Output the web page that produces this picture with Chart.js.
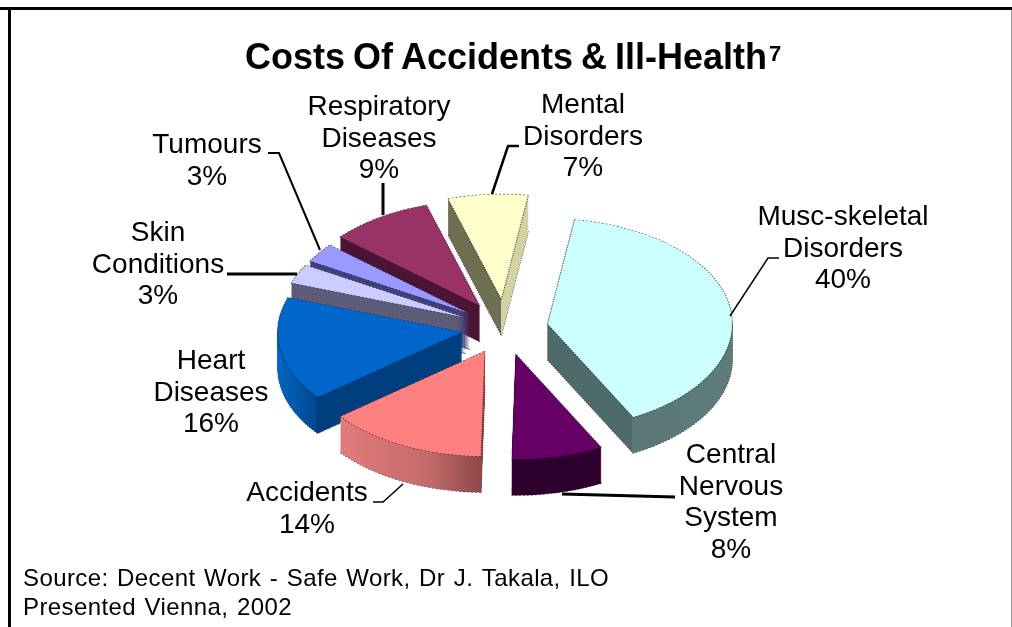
<!DOCTYPE html>
<html><head><meta charset="utf-8">
<style>html,body{margin:0;padding:0;background:#fff}canvas{display:block}#w{width:1012px;height:627px;position:relative}</style>
<script src="https://cdn.jsdelivr.net/npm/chart.js@4"></script>
</head><body><div id="w"><canvas id="c" width="1012" height="627"></canvas></div>
<script>
const categoryLines = [["Musc-skeletal","Disorders"],["Central","Nervous","System"],["Accidents"],["Heart","Diseases"],["Skin","Conditions"],["Tumours"],["Respiratory","Diseases"],["Mental","Disorders"]];
const shares = [40,8,14,16,3,3,9,7];
const titleText = "Costs Of Accidents & Ill-Health";
const titleNote = "7";
const sourceLines = ["Source: Decent Work - Safe Work, Dr J. Takala, ILO","Presented Vienna, 2002"];

const topColors = ["#ccffff","#660066","#ff8080","#0066cc","#ccccff","#9999ff","#993366","#ffffcc"];
const wallStops = [
  [[-1,"#4f6a6a"],[0.46,"#4f6a6a"],[0.46,"#5a7676"],[1,"#5f7c7c"]],
  [[-1,"#2e002e"],[1,"#2e002e"]],
  [[-0.8,"#e27c7c"],[-0.3,"#c46a6a"],[0,"#8a4646"]],
  [[-1,"#0066c4"],[-0.79,"#00498f"],[-0.79,"#003f7f"],[1,"#003f7f"]],
  [[-1,"#5c5c78"],[1,"#5c5c78"]],
  [[-1,"#40407c"],[1,"#40407c"]],
  [[-1,"#4a1535"],[1,"#4a1535"]],
  [[-1,"#6e6e52"],[0,"#6e6e52"],[0,"#d2d2a2"],[1,"#d2d2a2"]]
];
const explode = [43,47,45,43,43,43,46,50];
const paintOrder = [7,6,5,4,3,0,2,1];
const SQUASH = 0.57, DEPTH = 36;
const LINE_GAP = 31.5;
const labelAnchors = [[843,225],[731,463],[307,501],[211,369],[158,241],[207,153],[379,115],[583,113]];
const leaderLines = [
  [[730,316],[768,258],[779,258]],
  [[562,494],[675,497]],
  [[403,484],[383,502],[373,502]],
  [[227,274],[297,274]],
  [[268,153],[279,153],[320,250]],
  [[383,183],[383,215]],
  [[492,194],[508,146],[519,146]]
];
const leaderWidths = [1.5,3,1.5,3,2,3,2.5];

function baseArcOptions(){return {borderAlign:'center',borderJoinStyle:'round',borderDash:[],borderDashOffset:0,offset:0,spacing:0,circular:true,borderRadius:0};}
function paintArc(ctx,arc,i,fill,depth,border){
  const p=arc.getProps(['x','y','startAngle','endAngle','outerRadius']);
  const mid=(p.startAngle+p.endAngle)/2, e=explode[i];
  const saved=arc.options;
  arc.options=Object.assign(baseArcOptions(),{backgroundColor:fill,borderColor:border?'rgba(25,25,25,0.75)':'transparent',borderWidth:border?1.1:0,borderDash:border?[2,2]:[]});
  ctx.save();
  ctx.translate(p.x,p.y+depth);
  ctx.scale(1,SQUASH);
  ctx.translate(Math.cos(mid)*e-p.x,Math.sin(mid)*e-p.y);
  arc.draw(ctx);
  ctx.restore();
  arc.options=saved;
}
const pie3d={
  id:'pie3d',
  beforeDatasetDraw(chart,args){
    const ctx=chart.ctx, arcs=args.meta.data;
    for(const i of paintOrder){
      const arc=arcs[i], R=arc.outerRadius;
      const g=ctx.createLinearGradient(arc.x-R,0,arc.x+R,0);
      for(const [pos,col] of wallStops[i]) g.addColorStop((pos+1)/2,col);
      for(let d=DEPTH;d>=1;d--) paintArc(ctx,arc,i,g,d,d===DEPTH);
      paintArc(ctx,arc,i,topColors[i],0,true);
    }
    return false;
  },
  afterDraw(chart){
    const ctx=chart.ctx;
    ctx.save();
    ctx.fillStyle='#000';
    ctx.fillRect(0,7,1012,3);
    ctx.fillRect(8,7,3,620);
    ctx.fillStyle='#999';
    ctx.fillRect(1011,10,1,617);
    ctx.strokeStyle='#000';ctx.lineJoin='miter';
    leaderLines.forEach((pts,k)=>{
      ctx.lineWidth=leaderWidths[k];
      ctx.beginPath();
      pts.forEach((q,j)=>j?ctx.lineTo(q[0],q[1]):ctx.moveTo(q[0],q[1]));
      ctx.stroke();
    });
    ctx.fillStyle='#000';
    ctx.textBaseline='alphabetic';ctx.textAlign='center';
    ctx.font='28px "Liberation Sans"';
    categoryLines.forEach((lines,i)=>{
      const all=lines.concat([shares[i]+'%']);
      all.forEach((t,j)=>ctx.fillText(t,labelAnchors[i][0],labelAnchors[i][1]+j*LINE_GAP));
    });
    ctx.textAlign='left';
    ctx.font='bold 36px "Liberation Sans"';
    ctx.wordSpacing='-2px';
    ctx.fillText(titleText,245,69);
    const tw=ctx.measureText(titleText).width;
    ctx.wordSpacing='0px';
    ctx.font='bold 22px "Liberation Sans"';
    ctx.fillText(titleNote,245+tw+2,61);
    ctx.font='24px "Liberation Sans"';
    ctx.letterSpacing='0.4px';ctx.wordSpacing='1.5px';
    sourceLines.forEach((t,j)=>ctx.fillText(t,23,586+j*29));
    ctx.restore();
  }
};
new Chart(document.getElementById('c'),{
  type:'pie',
  data:{labels:categoryLines.map(l=>l.join(' ')),datasets:[{data:shares,backgroundColor:topColors,borderWidth:0}]},
  options:{
    responsive:false,animation:false,rotation:8.4,
    layout:{padding:{left:320,right:322,top:143,bottom:114}},
    plugins:{legend:{display:false},title:{display:false},tooltip:{enabled:false}}
  },
  plugins:[pie3d]
});
</script></body></html>
